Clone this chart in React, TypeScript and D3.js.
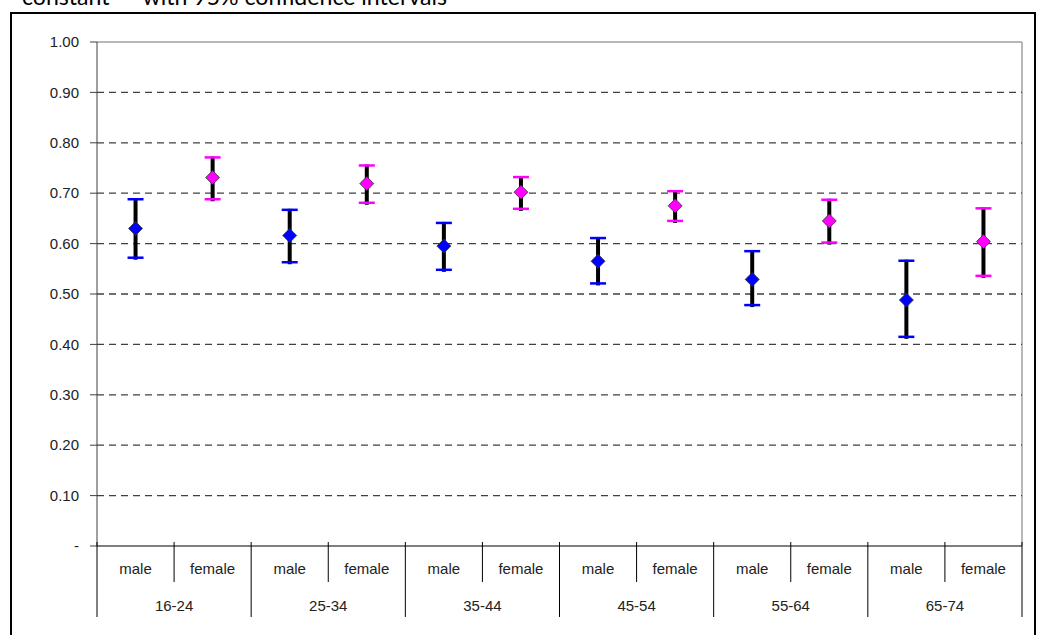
import React from "react";
import * as d3 from "d3";

const groups = ["16-24", "25-34", "35-44", "45-54", "55-64", "65-74"];
const sexes = ["male", "female"];
const maleMid = [0.630, 0.616, 0.595, 0.565, 0.529, 0.488];
const maleHi = [0.688, 0.667, 0.641, 0.611, 0.585, 0.566];
const maleLo = [0.572, 0.563, 0.548, 0.521, 0.478, 0.415];
const femaleMid = [0.731, 0.719, 0.702, 0.675, 0.645, 0.604];
const femaleHi = [0.771, 0.755, 0.732, 0.704, 0.687, 0.670];
const femaleLo = [0.688, 0.681, 0.669, 0.645, 0.602, 0.536];
const yTicks = [0, 0.1, 0.2, 0.3, 0.4, 0.5, 0.6, 0.7, 0.8, 0.9, 1.0];
const titleText = "constant\u201D \u2013 with 95% confidence intervals";

export default function App() {
  const W = 1038, H = 635;
  const left = 97, right = 1022, top = 42, bottom = 546;
  const cats = groups.flatMap((g) => sexes.map((s) => `${g}|${s}`));
  const x = d3.scaleBand<string>().domain(cats).range([left, right]);
  const xg = d3.scaleBand<string>().domain(groups).range([left, right]);
  const y = d3.scaleLinear().domain([0, 1]).range([bottom, top]);
  const fmt = d3.format(".2f");
  const font = "'Liberation Sans', Arial, sans-serif";
  const fs = 15;

  const points = groups.flatMap((g, i) => [
    { key: `${g}|male`, mid: maleMid[i], hi: maleHi[i], lo: maleLo[i], color: "#0000FF" },
    { key: `${g}|female`, mid: femaleMid[i], hi: femaleHi[i], lo: femaleLo[i], color: "#FF00FF" },
  ]);

  const diamond = (cx: number, cy: number, r: number) =>
    `M${cx},${cy - r}L${cx + r},${cy}L${cx},${cy + r}L${cx - r},${cy}Z`;

  return (
    <svg width={W} height={H} style={{ position: "absolute", left: 0, top: 0, background: "#fff" }}>
      <text x={22} y={5} fontFamily="Lato, 'Open Sans', sans-serif" fontSize={23} fill="#000" textLength={425} lengthAdjust="spacingAndGlyphs">
        {titleText}
      </text>
      <rect x={11} y={13} width={1024} height={640} fill="#fff" stroke="#000" strokeWidth={2} />
      {/* plot area border */}
      <line x1={left} x2={right} y1={top} y2={top} stroke="#a0a0a0" strokeWidth={1.5} />
      <line x1={right} x2={right} y1={top} y2={bottom} stroke="#a0a0a0" strokeWidth={1.5} />
      {/* gridlines */}
      {yTicks.filter((t) => t > 0 && t < 1).map((t) => (
        <line key={t} x1={left} x2={right} y1={y(t)} y2={y(t)} stroke="#404040" strokeWidth={1.3} strokeDasharray="7,5" />
      ))}
      {/* y axis */}
      <line x1={left} x2={left} y1={top} y2={bottom} stroke="#404040" strokeWidth={1} />
      {yTicks.map((t) => (
        <g key={`yt${t}`}>
          <line x1={left - 7} x2={left} y1={y(t)} y2={y(t)} stroke="#404040" strokeWidth={1} />
          <text x={79} y={y(t)} dy="0.35em" textAnchor="end" fontFamily={font} fontSize={fs} fill="#222">
            {t === 0 ? "-" : fmt(t)}
          </text>
        </g>
      ))}
      {/* x axis */}
      <line x1={left} x2={right} y1={bottom} y2={bottom} stroke="#000" strokeWidth={1} />
      {groups.map((g) => {
        const gx = xg(g)!;
        const mx = gx + xg.bandwidth() / 2;
        return (
          <g key={`g${g}`}>
            <line x1={gx} x2={gx} y1={bottom - 4} y2={617} stroke="#000" strokeWidth={1} />
            <line x1={mx} x2={mx} y1={bottom - 4} y2={582} stroke="#000" strokeWidth={1} />
            <text x={mx} y={606} dy="0.35em" textAnchor="middle" fontFamily={font} fontSize={fs} fill="#222">
              {g}
            </text>
          </g>
        );
      })}
      <line x1={right} x2={right} y1={bottom - 4} y2={617} stroke="#000" strokeWidth={1} />
      {cats.map((c) => (
        <text key={`c${c}`} x={x(c)! + x.bandwidth() / 2} y={569} dy="0.35em" textAnchor="middle" fontFamily={font} fontSize={fs} fill="#222">
          {c.split("|")[1]}
        </text>
      ))}
      {/* error bars and markers */}
      {points.map((p) => {
        const cx = x(p.key)! + x.bandwidth() / 2;
        return (
          <g key={`p${p.key}`}>
            <line x1={cx} x2={cx} y1={y(p.lo) + 2} y2={y(p.hi) - 1} stroke="#000" strokeWidth={4} />
            <line x1={cx - 8} x2={cx + 8} y1={y(p.hi)} y2={y(p.hi)} stroke={p.color} strokeWidth={2.5} />
            <line x1={cx - 8} x2={cx + 8} y1={y(p.lo)} y2={y(p.lo)} stroke={p.color} strokeWidth={2.5} />
            <path d={diamond(cx, y(p.mid), 7)} fill={p.color} stroke="#333" strokeWidth={0.8} />
          </g>
        );
      })}
    </svg>
  );
}
